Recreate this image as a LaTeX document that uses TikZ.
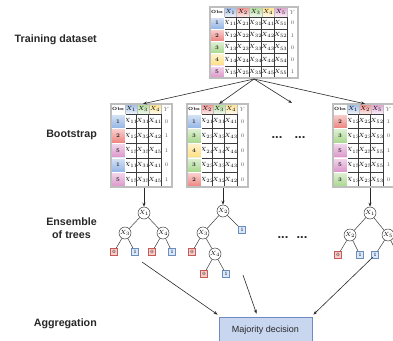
\documentclass[tikz,border=0pt]{standalone}
\usepackage{fontspec}
\setsansfont{Liberation Sans}
\usetikzlibrary{arrows.meta, calc}
\definecolor{featblue}{RGB}{126,166,224}
\definecolor{featred}{RGB}{234,107,102}
\definecolor{featgreen}{RGB}{151,208,119}
\definecolor{featyellow}{RGB}{255,217,102}
\definecolor{featpink}{RGB}{213,128,192}
\colorlet{feat1}{featblue}
\colorlet{feat2}{featred}
\colorlet{feat3}{featgreen}
\colorlet{feat4}{featyellow}
\colorlet{feat5}{featpink}
\definecolor{labelgray}{RGB}{40,40,40}
\definecolor{cellline}{RGB}{60,60,60}
\definecolor{framegray}{RGB}{190,190,190}
\definecolor{leafredfill}{RGB}{248,206,204}
\definecolor{leafreddraw}{RGB}{200,90,86}
\definecolor{leafbluefill}{RGB}{218,232,252}
\definecolor{leafbluedraw}{RGB}{108,142,191}
\definecolor{votefill}{RGB}{200,214,240}
\definecolor{votedraw}{RGB}{110,138,192}
\tikzset{
  stage/.style={font=\sffamily\bfseries\fontsize{10.7}{13}\selectfont,
    text=labelgray, anchor=east, align=center, inner sep=0pt},
  obshead/.style={rectangle, draw=framegray, fill=white, inner sep=0pt,
    minimum width=14, minimum height=10, font=\bfseries\fontsize{4.5}{5}\selectfont},
  feathead/.style={rectangle, draw=framegray, inner sep=0pt,
    minimum height=10, font=\fontsize{6.5}{7}\selectfont},
  cell/.style={rectangle, draw=cellline, line width=0.4pt, fill=white,
    inner sep=0pt, font=\fontsize{5.8}{6}\selectfont},
  obscell/.style={rectangle, draw=white, line width=0.3pt, inner sep=0pt,
    minimum width=14, font=\bfseries\fontsize{5.5}{6}\selectfont, text=labelgray},
  ycell/.style={inner sep=0pt, font=\fontsize{5.5}{6}\selectfont, text=black!65},
  yhead/.style={inner sep=0pt, font=\fontsize{6.5}{7}\selectfont, text=black!55},
  frame/.style={draw=framegray, line width=1.3pt},
  split/.style={circle, draw=cellline, fill=white, line width=0.5pt,
    minimum size=12, inner sep=0pt, font=\fontsize{6}{6}\selectfont},
  leafno/.style={rectangle, draw=leafreddraw, fill=leafredfill, line width=0.4pt,
    minimum size=7, inner sep=0pt, font=\fontsize{5}{5}\selectfont},
  leafyes/.style={rectangle, draw=leafbluedraw, fill=leafbluefill, line width=0.4pt,
    minimum size=7, inner sep=0pt, font=\fontsize{5}{5}\selectfont},
  edge/.style={draw=cellline, line width=0.5pt},
  arrow/.style={-{Stealth[length=4pt,width=3pt]}, line width=0.6pt, color=labelgray},
  dots/.style={font=\sffamily\bfseries\fontsize{13}{13}\selectfont, text=labelgray, inner sep=0pt},
  vote/.style={rectangle, draw=votedraw, fill=votefill, line width=0.8pt,
    minimum width=93, minimum height=26, text=labelgray,
    font=\sffamily\fontsize{9}{10}\selectfont}
}
% #1 name, #2 left, #3 top, #4 row height, #5 column width, #6 features, #7 obs/label rows
\newcommand{\datatable}[7]{%
  \begin{scope}[shift={(#2,#3)}]
    \foreach \f [count=\c] in {#6} {\xdef\ncols{\c}}
    \pgfmathsetmacro\ycol{14+#5*\ncols+5.5}
    \pgfmathsetmacro\tabw{14+#5*\ncols+11}
    \pgfmathsetmacro\tabh{10+5*#4}
    \fill[white] (0,0) rectangle (\tabw,\tabh);
    \node[obshead] (#1-obs) at (7,5) {Obs};
    \node[yhead] (#1-y) at (\ycol,5) {$Y$};
    \foreach \f [count=\c] in {#6} {
      \node[feathead, minimum width=#5, top color=feat\f!75, bottom color=feat\f!12]
        (#1-x\c) at ({14+#5*(\c-0.5)},5) {$X_{\f}$};
      \foreach \o/\yv [count=\r] in {#7}
        \node[cell, minimum width=#5, minimum height=#4]
          (#1-\r-\c) at ({14+#5*(\c-0.5)},{10+#4*(\r-0.5)}) {$X_{\f\o}$};
    }
    \foreach \o/\yv [count=\r] in {#7} {
      \node[obscell, minimum height=#4, top color=feat\o!30, bottom color=feat\o!85]
        (#1-o\r) at (7,{10+#4*(\r-0.5)}) {\o};
      \node[ycell] (#1-y\r) at (\ycol,{10+#4*(\r-0.5)}) {\yv};
    }
    \draw[frame] (0,0) rectangle (\tabw,\tabh);
    \coordinate (#1-bot) at ({\tabw/2},{\tabh+1});
  \end{scope}}

\begin{document}
\begin{tikzpicture}[x=1pt, y=-1pt]
  \clip (0,0) rectangle (393,340);

  % Stage labels
  \node[stage] (lbl-train) at (97,40) {Training dataset};
  \node[stage] (lbl-boot) at (97,135) {Bootstrap};
  \node[stage] (lbl-trees) at (97,228) {Ensemble\\of trees};
  \node[stage] (lbl-agg) at (97,324) {Aggregation};

  % Training dataset
  \datatable{train}{210}{7}{12.2}{12.6}{1,2,3,4,5}{1/0,2/1,3/0,4/0,5/1}

  % Bootstrap samples
  \datatable{bootA}{111}{104}{14.6}{12}{1,3,4}{1/0,2/1,5/1,1/0,5/1}
  \datatable{bootB}{187}{104}{14.6}{12}{2,3,4}{1/0,3/0,4/0,3/0,2/0}
  \datatable{bootC}{333}{104}{14.6}{12}{1,2,5}{2/1,3/0,5/1,5/1,3/0}
  \node[dots] (dotsA) at (277,138) {...};
  \node[dots] (dotsB) at (300,138) {...};

  \coordinate (more) at (292,103);
  \draw[arrow] (train-bot) -- (bootA-x2.north);
  \draw[arrow] (train-bot) -- (bootB-x2.north);
  \draw[arrow] (train-bot) -- (more);
  \draw[arrow] (train-bot) -- (bootC-x2.north);

  % Tree A
  \node[split] (A1) at (144,213) {$X_1$};
  \node[split] (A3) at (125,233) {$X_3$};
  \node[split] (A4) at (163,233) {$X_4$};
  \node[leafno] (A30) at (114,252) {0};
  \node[leafyes] (A31) at (135,252) {1};
  \node[leafno] (A40) at (152,252) {0};
  \node[leafyes] (A41) at (172,252) {1};
  \draw[edge] (A1) -- (A3);
  \draw[edge] (A1) -- (A4);
  \draw[edge] (A3) -- (A30);
  \draw[edge] (A3) -- (A31);
  \draw[edge] (A4) -- (A40);
  \draw[edge] (A4) -- (A41);

  % Tree B
  \node[split] (B2) at (223,211) {$X_2$};
  \node[split] (B3) at (203,233) {$X_3$};
  \node[leafyes] (B21) at (242,230) {1};
  \node[leafno] (B30) at (192,252) {0};
  \node[split] (B4) at (215,254) {$X_4$};
  \node[leafno] (B40) at (204,274) {0};
  \node[leafyes] (B41) at (226,274) {1};
  \draw[edge] (B2) -- (B3);
  \draw[edge] (B2) -- (B21);
  \draw[edge] (B3) -- (B30);
  \draw[edge] (B3) -- (B4);
  \draw[edge] (B4) -- (B40);
  \draw[edge] (B4) -- (B41);

  % Tree C
  \node[split] (C1) at (370,213) {$X_1$};
  \node[split] (C2) at (350,235) {$X_2$};
  \node[split] (C5) at (388,235) {$X_5$};
  \node[leafno] (C20) at (338,255) {0};
  \node[leafyes] (C21) at (360,255) {1};
  \node[leafyes] (C51) at (375,255) {1};
  \node[leafno] (C50) at (398,255) {0};
  \draw[edge] (C1) -- (C2);
  \draw[edge] (C1) -- (C5);
  \draw[edge] (C2) -- (C20);
  \draw[edge] (C2) -- (C21);
  \draw[edge] (C5) -- (C51);
  \draw[edge] (C5) -- (C50);
  \node[dots] (dotsC) at (283,238) {...};
  \node[dots] (dotsD) at (302,238) {...};

  \draw[arrow] (bootA-bot -| A1) -- (A1);
  \draw[arrow] (bootB-bot -| B2) -- (B2);
  \draw[arrow] (bootC-bot -| C1) -- (C1);

  % Aggregation
  \node[vote] (vote) at (265.5,330) {Majority decision};
  \coordinate (aggA) at (142,262);
  \coordinate (aggB) at (243,275);
  \coordinate (aggC) at (373,257);
  \draw[arrow] (aggA) -- ([shift={(-1,-2)}]vote.north west);
  \draw[arrow] (aggB) -- ([shift={(-9,-3)}]vote.north);
  \draw[arrow] (aggC) -- ([shift={(1,-2)}]vote.north east);
\end{tikzpicture}
\end{document}
